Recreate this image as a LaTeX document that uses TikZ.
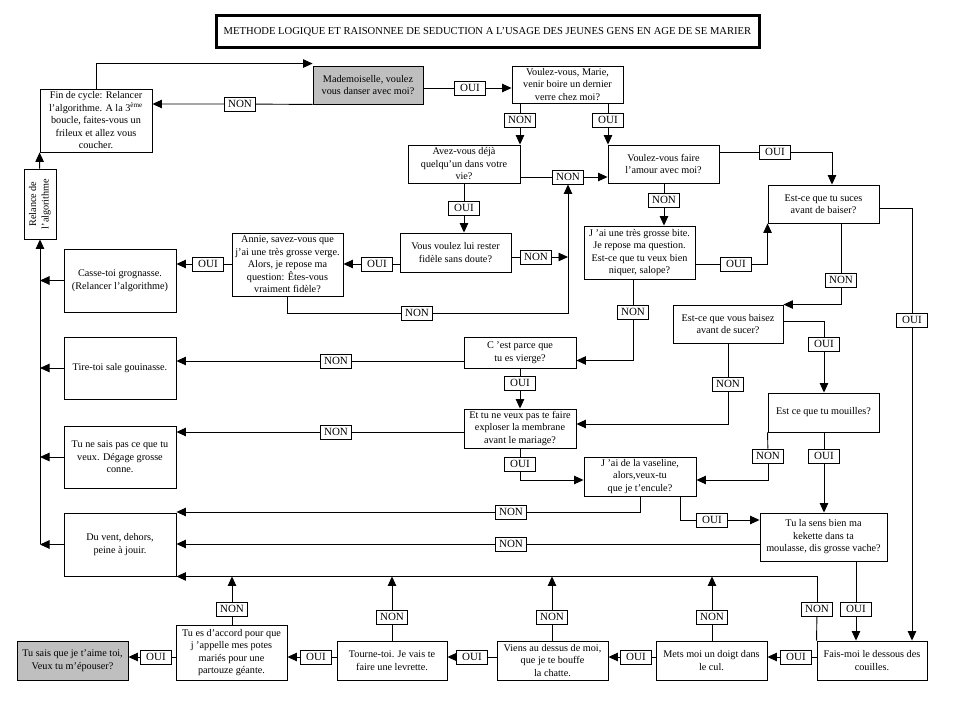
\documentclass[tikz,border=0pt]{standalone}
\usepackage{fontspec}
\setmainfont{Liberation Serif}
\usetikzlibrary{arrows.meta}
\tikzset{
 box/.style={draw, line width=0.9pt, align=center, inner sep=1pt, font=\fontsize{10.2}{12.5}\selectfont},
 lbl/.style={draw, fill=white, line width=0.9pt, inner sep=0pt, minimum width=31pt, minimum height=14pt, font=\fontsize{11}{12}\selectfont},
 arr/.style={line width=0.9pt, -{Triangle[length=9.5pt,width=8.5pt]}},
 conn/.style={line width=0.9pt},
 grey/.style={fill=black!25},
}
\begin{document}
\begin{tikzpicture}[x=1pt,y=-1pt]
\fill[white] (0,0) rectangle (959,719);
\useasboundingbox (0,0) rectangle (959,719);
% boxes
\node[box, line width=3pt, minimum width=543pt, minimum height=32pt, font=\fontsize{10.6}{12}\selectfont] (title) at (487.5,32) {METHODE LOGIQUE ET RAISONNEE DE SEDUCTION A L’USAGE DES JEUNES GENS EN AGE DE SE MARIER};
\node[box, minimum width=112pt, minimum height=63pt] (fin) at (96,120.5) {Fin de cycle: Relancer\\ l’algorithme. A la 3\textsuperscript{ème}\\ boucle, faites-vous un\\ frileux et allez vous\\ coucher.};
\node[box, grey, minimum width=110pt, minimum height=38pt] (mad) at (368,85) {Mademoiselle, voulez\\ vous danser avec moi?};
\node[box, minimum width=111pt, minimum height=37pt] (marie) at (567.5,84.5) {Voulez-vous, Marie,\\ venir boire un dernier\\ verre chez moi?};
\node[box, minimum width=112pt, minimum height=38pt] (avez) at (464,164) {Avez-vous déjà\\ quelqu’un dans votre\\ vie?};
\node[box, minimum width=111pt, minimum height=38pt] (amour) at (663.5,164) {Voulez-vous faire\\ l’amour avec moi?};
\node[box, minimum width=111pt, minimum height=39pt] (fidele) at (455.5,252.5) {Vous voulez lui rester\\ fidèle sans doute?};
\node[box, minimum width=111pt, minimum height=63pt] (annie) at (287.5,264.5) {Annie, savez-vous que\\ j’ai une très grosse verge.\\ Alors, je repose ma\\ question: Êtes-vous\\ vraiment fidèle?};
\node[box, minimum width=112pt, minimum height=63pt] (casse) at (120,280.5) {Casse-toi grognasse.\\ (Relancer l’algorithme)};
\node[box, rotate=90, minimum width=70pt, minimum height=32pt] (relance) at (40,204) {Relance de\\ l’algorithme};
\node[box, minimum width=111pt, minimum height=53pt] (bite) at (639.5,252.5) {J ’ai une très grosse bite.\\ Je repose ma question.\\ Est-ce que tu veux bien\\ niquer, salope?};
\node[box, minimum width=111pt, minimum height=38pt] (suces) at (823.5,204) {Est-ce que tu suces\\ avant de baiser?};
\node[box, minimum width=110pt, minimum height=38pt] (baisez) at (728,324) {Est-ce que vous baisez\\ avant de sucer?};
\node[box, minimum width=111pt, minimum height=39pt] (mouilles) at (823.5,412.5) {Est ce que tu mouilles?};
\node[box, minimum width=112pt, minimum height=31pt] (cest) at (520,352.5) {C ’est parce que\\ tu es vierge?};
\node[box, minimum width=112pt, minimum height=39pt] (ettu) at (520,428.5) {Et tu ne veux pas te faire\\ exploser la membrane\\ avant le mariage?};
\node[box, minimum width=112pt, minimum height=39pt] (vaseline) at (640,476.5) {J ’ai de la vaseline,\\ alors,veux-tu\\ que je t’encule?};
\node[box, minimum width=127pt, minimum height=48pt] (sens) at (823.5,537) {Tu la sens bien ma\\ kekette dans ta\\ moulasse, dis grosse vache?};
\node[box, minimum width=112pt, minimum height=62pt] (tire) at (120,368) {Tire-toi sale gouinasse.};
\node[box, minimum width=112pt, minimum height=62pt] (tune) at (120,457) {Tu ne sais pas ce que tu\\ veux. Dégage grosse\\ conne.};
\node[box, minimum width=112pt, minimum height=63pt] (vent) at (120,544.5) {Du vent, dehors,\\ peine à jouir.};
\node[box, minimum width=110pt, minimum height=39pt] (fais) at (872,660.5) {Fais-moi le dessous des\\ couilles.};
\node[box, minimum width=111pt, minimum height=39pt] (mets) at (711.5,660.5) {Mets moi un doigt dans\\ le cul.};
\node[box, minimum width=111pt, minimum height=39pt] (viens) at (552.5,660.5) {Viens au dessus de moi,\\ que je te bouffe\\ la chatte.};
\node[box, minimum width=110pt, minimum height=39pt] (tourne) at (392,660.5) {Tourne-toi. Je vais te\\ faire une levrette.};
\node[box, minimum width=111pt, minimum height=55pt] (daccord) at (231.5,652.5) {Tu es d’accord pour que\\ j ’appelle mes potes\\ mariés pour une\\ partouze géante.};
\node[box, grey, minimum width=111pt, minimum height=39pt] (tusais) at (72.5,660.5) {Tu sais que je t’aime toi,\\ Veux tu m’épouser?};
% labels
\node[lbl] (L1) at (240,104) {NON};
\node[lbl] (L2) at (470,88) {OUI};
\node[lbl] (L3) at (520,120) {NON};
\node[lbl] (L4) at (608,120) {OUI};
\node[lbl] (L5) at (568,177) {NON};
\node[lbl] (L6) at (464,208) {OUI};
\node[lbl] (L7) at (536,257) {NON};
\node[lbl] (L8) at (417,313) {NON};
\node[lbl] (L9) at (377,264) {OUI};
\node[lbl] (L10) at (208,264) {OUI};
\node[lbl] (L11) at (336,361) {NON};
\node[lbl] (L12) at (633,312) {NON};
\node[lbl] (L13) at (520,383) {OUI};
\node[lbl] (L14) at (336,432) {NON};
\node[lbl] (L15) at (520,464) {OUI};
\node[lbl] (L16) at (511,512) {NON};
\node[lbl] (L17) at (511,544) {NON};
\node[lbl] (L18) at (712,520) {OUI};
\node[lbl] (L19) at (775,152) {OUI};
\node[lbl] (L20) at (664,200) {NON};
\node[lbl] (L21) at (736,264) {OUI};
\node[lbl] (L22) at (841,280) {NON};
\node[lbl] (L23) at (912,320) {OUI};
\node[lbl] (L24) at (824,344) {OUI};
\node[lbl] (L25) at (728,384) {NON};
\node[lbl] (L26) at (768,456) {NON};
\node[lbl] (L27) at (824,456) {OUI};
\node[lbl] (L28) at (856,609) {OUI};
\node[lbl] (L29) at (817,609) {NON};
\node[lbl] (L30) at (796,657) {OUI};
\node[lbl] (L31) at (712,617) {NON};
\node[lbl] (L32) at (636,657) {OUI};
\node[lbl] (L33) at (552,617) {NON};
\node[lbl] (L34) at (472,657) {OUI};
\node[lbl] (L35) at (392,617) {NON};
\node[lbl] (L36) at (316,657) {OUI};
\node[lbl] (L37) at (232,609) {NON};
\node[lbl] (L38) at (156,657) {OUI};
\coordinate (J) at (568,257);
\coordinate (S) at (40,544);
% connectors
\draw[arr] (fin.north) |- ([yshift=2pt]mad.north west);
\draw[arr] (mad.south west) -- (L1) -- (fin.east |- L1);
\draw[arr] (mad.east |- L2) -- (L2) -- (marie.west |- L2);
\draw[arr] (marie.south -| L3) -- (L3) -- (avez.north -| L3);
\draw[arr] (marie.south -| L4) -- (L4) -- (amour.north -| L4);
\draw[arr] (avez.east |- L5) -- (L5) -- (amour.west |- L5);
\draw[arr] (avez.south -| L6) -- (L6) -- (fidele.north -| L6);
\draw[arr] (fidele.east |- L7) -- (L7) -- (J);
\draw[conn] (annie.south) |- (L8);
\draw[arr] (L8) -| (L5.south);
\draw[arr] (fidele.west |- L9) -- (L9) -- (annie.east |- L9);
\draw[arr] (annie.west |- L10) -- (L10) -- (casse.east |- L10);
\draw[arr] (S) -- (relance);
\draw[arr] (relance) -- (fin.south west);
\draw[arr] (casse.west) -- (casse.west -| S);
\draw[arr] (tire.west) -- (tire.west -| S);
\draw[arr] (tune.west) -- (tune.west -| S);
\draw[arr] (vent.west) -- (vent.west -| S);
\draw[arr] (cest.west |- L11) -- (L11) -- (tire.east |- L11);
\draw[conn] (bite.south -| L12) -- (L12);
\draw[arr] (L12) |- ([yshift=-8pt]cest.east);
\draw[arr] (cest.south) -- (L13) -- (ettu.north);
\draw[arr] (ettu.west |- L14) -- (L14) -- (tune.east |- L14);
\draw[conn] (ettu.south) -- (L15);
\draw[arr] (L15) |- ([yshift=-3.5pt]vaseline.west);
\draw[conn] (vaseline.south) |- (L16);
\draw[arr] (L16) -- (vent.north east |- L16);
\draw[arr] (sens.west |- L17) -- (L17) -- (vent.east |- L17);
\draw[conn] ([xshift=40pt]vaseline.south) |- (L18);
\draw[arr] (L18) -- (sens.west |- L18);
\draw[conn] (amour.east |- L19) -- (L19);
\draw[arr] (L19) -| ([xshift=8.5pt]suces.north);
\draw[arr] (amour.south -| L20) -- (L20) -- (bite.north -| L20);
\draw[conn] (bite.east |- L21) -- (L21);
\draw[arr] (L21) -| (suces.south west);
\draw[conn] (suces.south -| L22) -- (L22);
\draw[arr] (L22) |- (baisez.north east);
\draw[conn] ([yshift=-4pt]suces.east) -| (L23);
\draw[arr] (L23) -- (fais.north -| L23);
\draw[conn] ([yshift=3pt]baisez.east) -| (L24);
\draw[arr] (L24) -- (mouilles.north -| L24);
\draw[conn] (baisez.south) -- (L25);
\draw[arr] (L25) |- ([yshift=4.5pt]ettu.east);
\draw[conn] (mouilles.south west) -- (L26);
\draw[arr] (L26) |- ([yshift=-3.5pt]vaseline.east);
\draw[arr] (mouilles.south -| L27) -- (L27) -- (sens.north -| L27);
\draw[arr] (sens.south -| L28) -- (L28) -- (fais.north -| L28);
\draw[conn] (fais.north west) -- (L29);
\draw[arr] (L29) |- (vent.south east);
\draw[arr] (fais.west |- L30) -- (L30) -- (mets.east |- L30);
\draw[conn] (mets.north -| L31) -- (L31);
\draw[arr] (L31) -- (L31 |- vent.south east);
\draw[arr] (mets.west |- L32) -- (L32) -- (viens.east |- L32);
\draw[conn] (viens.north -| L33) -- (L33);
\draw[arr] (L33) -- (L33 |- vent.south east);
\draw[arr] (viens.west |- L34) -- (L34) -- (tourne.east |- L34);
\draw[conn] (tourne.north -| L35) -- (L35);
\draw[arr] (L35) -- (L35 |- vent.south east);
\draw[arr] (tourne.west |- L36) -- (L36) -- (daccord.east |- L36);
\draw[conn] (daccord.north -| L37) -- (L37);
\draw[arr] (L37) -- (L37 |- vent.south east);
\draw[arr] (daccord.west |- L38) -- (L38) -- (tusais.east |- L38);
\end{tikzpicture}
\end{document}
